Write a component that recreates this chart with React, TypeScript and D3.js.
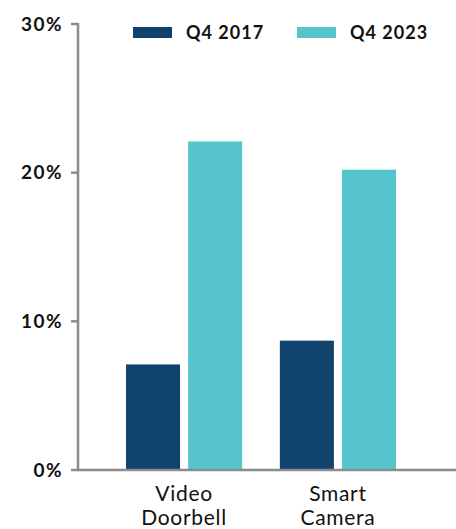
import React from "react";
import * as d3 from "d3";

const categories = ["Video Doorbell", "Smart Camera"];
const categoryLines = [["Video", "Doorbell"], ["Smart", "Camera"]];
const seriesNames = ["Q4 2017", "Q4 2023"];
const q4_2017 = [7.1, 8.7];
const q4_2023 = [22.1, 20.2];
const yTicks = [0, 10, 20, 30];
const colors = ["#0f426c", "#55c5cb"];

const W = 456;
const H = 529;
const axisX = 78;
const FONT = "Lato, 'Open Sans', sans-serif";

export default function App() {
  const y = d3.scaleLinear().domain([0, 30]).range([470, 24]);
  const x0 = d3.scaleBand<string>().domain(categories).range([126, 396]).paddingInner(0.245).paddingOuter(0);
  const x1 = d3.scaleBand<string>().domain(seriesNames).range([0, x0.bandwidth()]).paddingInner(0.13).paddingOuter(0);
  const series = [q4_2017, q4_2023];

  return (
    <svg width={W} height={H} style={{ position: "absolute", left: 0, top: 0 }} fontFamily={FONT}>
      <rect width={W} height={H} fill="#fff" />
      {categories.map((c, ci) =>
        seriesNames.map((s, si) => {
          const v = series[si][ci];
          return (
            <rect
              key={c + s}
              x={(x0(c) ?? 0) + (x1(s) ?? 0)}
              y={y(v)}
              width={x1.bandwidth()}
              height={y(0) - y(v)}
              fill={colors[si]}
            />
          );
        })
      )}
      {/* y axis */}
      <line x1={axisX} x2={axisX} y1={y(30) - 1} y2={y(0)} stroke="#8c8c8c" strokeWidth={2.5} />
      <line x1={axisX - 1} x2={W} y1={y(0)} y2={y(0)} stroke="#8c8c8c" strokeWidth={2.5} />
      {yTicks.map((t) => (
        <g key={t}>
          <line x1={71} x2={axisX} y1={y(t)} y2={y(t)} stroke="#8c8c8c" strokeWidth={2.5} />
          <text x={63} y={y(t)} dy="0.35em" textAnchor="end" fontSize={19} fontWeight={700} fill="#111" letterSpacing={1.5}>
            {t}%
          </text>
        </g>
      ))}
      {categories.map((c, ci) => (
        <text key={c} x={(x0(c) ?? 0) + x0.bandwidth() / 2} textAnchor="middle" fontSize={21} fill="#111" letterSpacing={0.7}>
          {categoryLines[ci].map((line, li) => (
            <tspan key={line} x={(x0(c) ?? 0) + x0.bandwidth() / 2} y={501 + li * 24}>
              {line}
            </tspan>
          ))}
        </text>
      ))}
      {/* legend */}
      {seriesNames.map((s, si) => {
        const lx = [133, 297][si];
        return (
          <g key={s}>
            <rect x={lx} y={27} width={39} height={11} fill={colors[si]} />
            <text x={lx + 53} y={39} fontSize={18} fontWeight={700} fill="#111" letterSpacing={1}>
              {s}
            </text>
          </g>
        );
      })}
    </svg>
  );
}
